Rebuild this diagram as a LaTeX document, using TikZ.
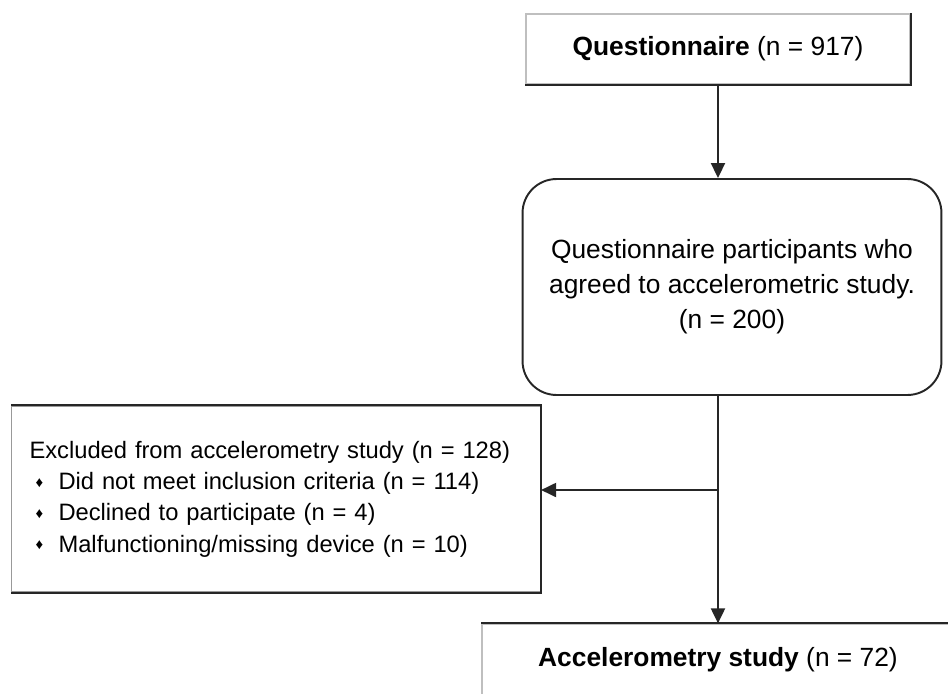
\documentclass[tikz,border=0pt]{standalone}
\usepackage{fontspec}
\setmainfont{Liberation Sans}
\usetikzlibrary{arrows.meta,positioning}
\newcommand{\itm}{\hspace*{0.12cm}\makebox[0.46cm][l]{\raisebox{0.1em}{\fontsize{8.5pt}{8.5pt}\selectfont ♦}}}

\begin{document}
\begin{tikzpicture}[
    x=0.02cm,y=-0.02cm,
    box/.style={draw=black!25,line width=0.7pt,align=center,font=\fontsize{15pt}{20pt}\selectfont},
    rbox/.style={draw=black!85,line width=1.1pt,rounded corners=0.68cm,align=center,font=\fontsize{15pt}{20pt}\selectfont},
    edge/.style={draw=black!85,line width=1.1pt},
    arr/.style={-{Triangle[length=0.3cm,width=0.28cm]},line width=1.1pt,black!85}
]
\useasboundingbox (0,0) rectangle (948,694);
\node[box,minimum width=7.68cm,minimum height=1.4cm] (quest) at (718,49) {\textbf{Questionnaire} (n = 917)};
\node[rbox,minimum width=8.38cm,minimum height=4.32cm] (part) at (732,287) {Questionnaire participants who\\agreed to accelerometric study.\\(n = 200)};
\node[box,draw=black!40,minimum height=3.72cm,text width=9.86cm,inner xsep=0.36cm,align=left,
      font=\fontsize{13.5pt}{17.8pt}\selectfont] (excl) at (276,499)
      {Excluded from accelerometry study (n = 128)\\
       \itm Did not meet inclusion criteria (n = 114)\\
       \itm Declined to participate (n = 4)\\
       \itm Malfunctioning/missing device (n = 10)\\[-0.25cm]};
\node[box,minimum width=9.44cm,minimum height=1.44cm] (accel) at (718,660) {\textbf{Accelerometry study} (n = 72)};

% darker right and bottom sides
\draw[edge] (quest.north east) -- (quest.south east) -- (quest.south west);
\draw[edge] (excl.north west) -- (excl.north east) -- (excl.south east) -- (excl.south west);
\draw[edge] (accel.north west) -- (accel.north east);

\coordinate (split) at (718,490);
\draw[arr] (quest.south) -- (quest.south |- part.north);
\draw[arr] (quest.south |- part.south) -- (accel.north);
\draw[arr] (split) -- (split -| excl.east);
\end{tikzpicture}
\end{document}
